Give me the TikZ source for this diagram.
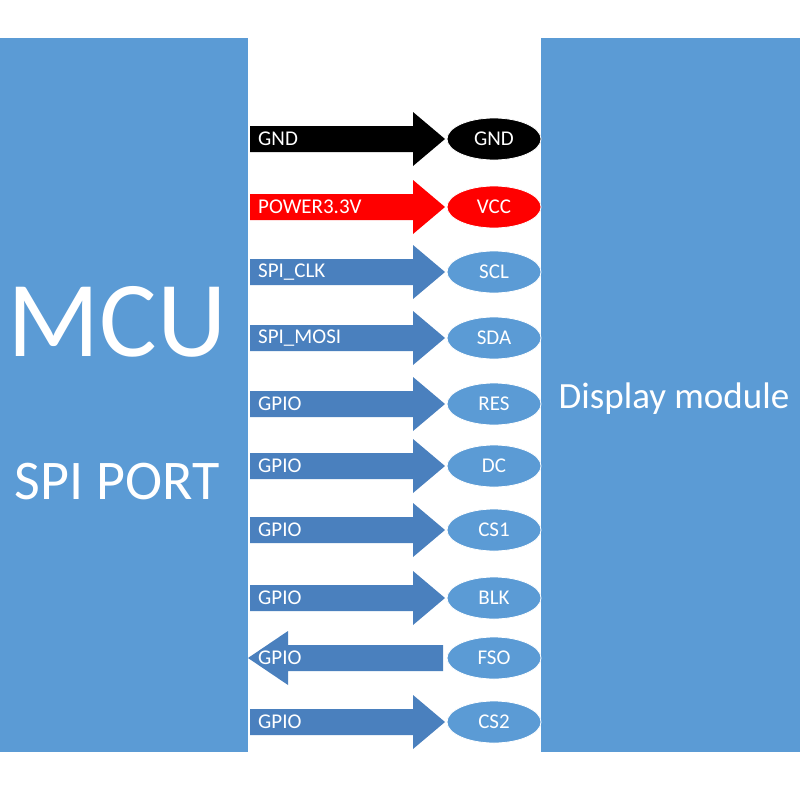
\documentclass[tikz,border=0pt]{standalone}
\usepackage{fontspec}
\setmainfont{Carlito}
\definecolor{panel}{HTML}{5B9BD5}
\definecolor{arr}{HTML}{4A80BE}
\definecolor{ell}{HTML}{5B9BD5}
\begin{document}
\begin{tikzpicture}[x=1pt,y=-1pt,
  lbl/.style={anchor=west,text=white,font=\fontsize{21}{24}\selectfont,inner sep=0},
  pin/.style={ellipse,minimum width=94pt,minimum height=42pt,inner sep=0,text=white,font=\fontsize{21}{24}\selectfont,draw=white,line width=0.8pt}]
\usetikzlibrary{shapes.geometric}
\fill[white] (0,0) rectangle (800,800);
\fill[panel] (0,38) rectangle (248,752);
\fill[panel] (541,38) rectangle (800,752);
\node[text=white,font=\fontsize{108}{108}\selectfont] (mcu) at (117,322) {MCU};
\node[text=white,font=\fontsize{56}{58}\selectfont] (spi) at (117,482) {SPI PORT};
\node[text=white,font=\fontsize{37}{40}\selectfont] (disp) at (674,399) {Display module};
\newcommand\rarr[5]{% y, color, left text, right text, pincolor
  \fill[#2] (250,#1-13) -- (413,#1-13) -- (413,#1-27) -- (445,#1) -- (413,#1+27) -- (413,#1+13) -- (250,#1+13) -- cycle;
  \node[lbl] at (258,#1) {#3};
  \node[pin,fill=#5] at (494,#1) {#4};}
\rarr{139}{black}{GND}{GND}{black}
\rarr{207}{red}{POWER3.3V}{VCC}{red}
\rarr{272}{arr}{SPI\_CLK}{SCL}{ell}
\rarr{338}{arr}{SPI\_MOSI}{SDA}{ell}
\rarr{404}{arr}{GPIO}{RES}{ell}
\rarr{466}{arr}{GPIO}{DC}{ell}
\rarr{530}{arr}{GPIO}{CS1}{ell}
\rarr{598}{arr}{GPIO}{BLK}{ell}
\fill[arr] (443,645) -- (288,645) -- (288,631) -- (248,658) -- (288,685) -- (288,671) -- (443,671) -- cycle;
\node[lbl] at (258,658) {GPIO};
\node[pin,fill=ell] (fso) at (494,658) {FSO};
\rarr{722}{arr}{GPIO}{CS2}{ell}
\end{tikzpicture}
\end{document}
